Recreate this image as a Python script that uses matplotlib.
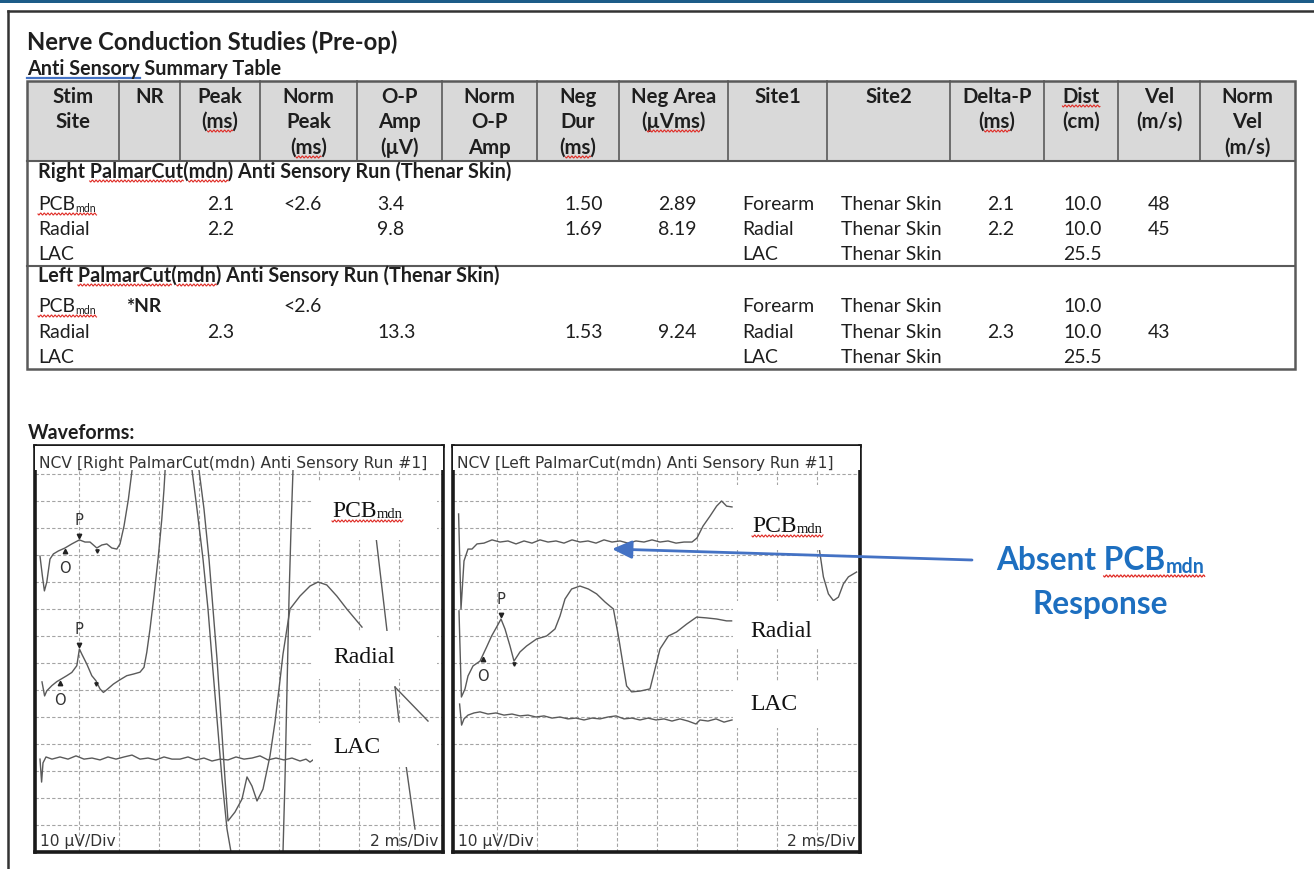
"""
Nerve Conduction Studies (Pre-op) - anti sensory summary table and waveforms
"""
import numpy as np
import matplotlib
matplotlib.use("Agg")
import matplotlib.pyplot as plt
from matplotlib.patches import Rectangle, FancyArrowPatch

nan = np.nan

# ------------------------------------------------------------------ table
# rows: right side (PCB, Radial, LAC) then left side (PCB, Radial, LAC)
run_titles = [
    "Right PalmarCut(mdn) Anti Sensory Run (Thenar Skin)",
    "Left PalmarCut(mdn) Anti Sensory Run (Thenar Skin)",
]
stim_sites = ["PCB", "Radial", "LAC", "PCB", "Radial", "LAC"]
no_response = ["", "", "", "*NR", "", ""]
peak_ms = [2.1, 2.2, None, None, 2.3, None]
norm_peak_ms = ["<2.6", "", "", "<2.6", "", ""]
op_amp_uv = [3.4, 9.8, None, None, 13.3, None]
neg_dur_ms = [1.50, 1.69, None, None, 1.53, None]
neg_area_uvms = [2.89, 8.19, None, None, 9.24, None]
site1 = ["Forearm", "Radial", "LAC", "Forearm", "Radial", "LAC"]
site2 = ["Thenar Skin"] * 6
delta_p_ms = [2.1, 2.2, None, None, 2.3, None]
dist_cm = [10.0, 10.0, 25.5, 10.0, 10.0, 25.5]
vel_m_s = [48, 45, None, None, 43, None]

header_labels = [
    ["Stim", "Site"], ["NR"], ["Peak", "(ms)"], ["Norm", "Peak", "(ms)"],
    ["O-P", "Amp", "(µV)"], ["Norm", "O-P", "Amp"], ["Neg", "Dur", "(ms)"],
    ["Neg Area", "(µVms)"], ["Site1"], ["Site2"], ["Delta-P", "(ms)"],
    ["Dist", "(cm)"], ["Vel", "(m/s)"], ["Norm", "Vel", "(m/s)"],
]

# -------------------------------------------------------------- waveforms
# time in ms, amplitude in uV on the 10 uV/div, 2 ms/div screen (nan = gap)
right_pcb_ms = [0.05, 0.17, 0.27, 0.39, 0.55, 0.72, 0.97, 1.30, 1.64, 2.02,
                2.30, 2.55, 2.89, 3.14, 3.39, 3.64, 3.89, 4.05, 4.25, 4.47,
                4.64, 4.80, nan,
                7.55, 7.65, 7.90, 8.20, 8.45, 8.65, 8.90, 9.15, 9.40, 9.60,
                9.65, nan,
                12.15, 12.20, 12.30, 12.40, 12.50, 12.60, 12.70, 12.75, nan,
                16.85, 17.40, nan, 17.80, 18.00, nan, 18.35, 18.80]
right_pcb_uv = [109.6, 102.2, 96.7, 100.0, 108.5, 110.4, 111.5, 112.6, 114.1,
                115.6, 114.8, 114.8, 112.6, 113.7, 114.1, 112.6, 112.2, 114.1,
                120.7, 130.7, 140.7, 150.4, nan,
                150.4, 141.5, 127.0, 108.5, 90.0, 71.5, 49.3, 27.0, 8.5, 0.0,
                -6.3, nan,
                -6.3, 0.0, 27.0, 60.4, 93.7, 119.6, 141.5, 150.4, nan,
                116.7, 81.9, nan, 61.1, 48.5, nan, 32.2, 8.5]

right_radial_ms = [0.15, 0.28, 0.39, 0.64, 0.89, 1.05, 1.39, 1.64, 1.89, 2.02,
                   2.14, 2.39, 2.64, 2.85, 3.05, 3.22, 3.39, 3.72, 4.05, 4.39,
                   4.72, 5.05, 5.25, 5.39, 5.55, 5.75, 5.97, 6.14, 6.25, 6.30,
                   6.35, nan,
                   7.90, 8.00, 8.25, 8.50, 8.70, 8.90, 9.10, 9.30, 9.45, 9.80,
                   10.15, 10.40, 10.65, 10.90, 11.20, 11.55, 11.80, 12.00,
                   12.20, 12.55, 13.05, 13.55, 13.95, 14.39, 14.89, 15.39,
                   16.15, nan, 17.80, 19.45]
right_radial_uv = [63.0, 57.8, 59.7, 61.6, 63.1, 63.8, 65.3, 66.5, 69.0, 75.2,
                   73.3, 69.6, 65.3, 63.4, 60.4, 59.1, 60.1, 62.2, 63.8, 65.3,
                   65.9, 66.6, 68.4, 74.0, 82.6, 94.9, 109.7, 123.3, 134.4,
                   140.7, 150.4, nan,
                   150.4, 141.5, 127.0, 108.5, 90.0, 71.5, 49.3, 27.0, 11.5,
                   14.8, 19.6, 27.8, 24.4, 18.9, 23.3, 35.6, 48.1, 60.4, 73.3,
                   90.0, 94.8, 98.5, 100.0, 98.9, 94.8, 90.0, 83.3, nan,
                   61.1, 48.5]

right_lac_ms = [0.05, 0.13, 0.20, 0.35, 0.65, 1.05, 1.45, 1.85, 2.25, 2.65,
                3.05, 3.45, 3.85, 4.25, 4.65, 5.05, 5.45, 5.85, 6.25, 6.65,
                7.05, 7.45, 7.85, 8.25, 8.65, 9.05, 9.45, 9.85, 10.25, 10.65,
                11.05, 11.45, 11.85, 12.25, 12.65, 13.05, 13.35, 13.55, 13.70]
right_lac_uv = [34.4, 25.9, 33.0, 35.2, 34.4, 35.2, 34.4, 35.6, 34.4, 34.8,
                34.1, 35.2, 34.4, 35.2, 35.9, 34.4, 34.8, 34.1, 35.2, 34.4,
                34.4, 35.2, 34.1, 34.8, 33.7, 34.4, 34.1, 35.2, 34.4, 34.8,
                35.6, 34.1, 34.8, 34.1, 34.8, 33.7, 34.4, 33.3, 34.1]

left_pcb_ms = [0.08, 0.20, 0.35, 0.55, 0.75, 1.00, 1.35, 1.75, 2.15, 2.55,
               2.95, 3.35, 3.75, 4.15, 4.55, 4.95, 5.35, 5.75, 6.15, 6.55,
               6.95, 7.35, 7.75, 8.15, 8.55, 8.95, 9.35, 9.75, 10.15, 10.55,
               10.95, 11.35, 11.75, 12.00, 12.30, 12.65, 12.98, 13.23, 13.48,
               13.75, nan,
               18.10, 18.32, 18.57, 18.82, 19.07, 19.32, 19.57, 19.98]
left_pcb_uv = [125.2, 90.0, 107.8, 112.2, 112.2, 114.1, 114.4, 115.6, 114.8,
               115.2, 114.1, 115.2, 114.4, 115.6, 114.8, 115.2, 114.4, 115.6,
               114.8, 115.2, 114.4, 115.6, 114.8, 115.2, 114.4, 115.2, 114.8,
               115.6, 114.8, 115.2, 114.4, 114.8, 114.8, 116.3, 120.7, 124.4,
               128.1, 130.0, 128.1, 127.8, nan,
               113.0, 101.9, 95.6, 93.1, 94.4, 99.3, 101.9, 103.7]

left_radial_ms = [0.10, 0.22, 0.40, 0.55, 0.80, 1.15, 1.48, 1.73, 1.98, 2.20,
                  2.40, 2.65, 2.85, 3.15, 3.48, 3.98, 4.48, 4.90, 5.15, 5.40,
                  5.73, 6.15, 6.57, 6.98, 7.40, 7.82, 8.07, 8.28, 8.48, 8.73,
                  9.15, 9.65, 9.90, 10.15, 10.57, 10.98, 11.48, 11.98, 12.48,
                  12.98, 13.48, 13.73]
left_radial_uv = [89.3, 57.4, 60.4, 65.2, 68.9, 70.7, 75.9, 80.0, 83.3, 86.3,
                  82.6, 76.3, 70.7, 74.1, 76.3, 78.9, 80.0, 82.6, 87.4, 93.7,
                  97.4, 98.5, 97.4, 95.6, 92.6, 90.0, 80.0, 70.4, 61.5, 59.3,
                  59.6, 60.4, 67.8, 75.2, 80.0, 81.5, 84.4, 87.0, 86.7, 86.3,
                  85.6, 85.6]

left_lac_ms = [0.13, 0.23, 0.35, 0.55, 0.85, 1.15, 1.55, 1.95, 2.35, 2.75,
               3.15, 3.55, 3.95, 4.35, 4.75, 5.15, 5.55, 5.95, 6.35, 6.75,
               7.15, 7.55, 7.95, 8.35, 8.75, 9.15, 9.55, 9.95, 10.35, 10.75,
               11.15, 11.55, 11.95, 12.15, 12.55, 12.95, 13.35, 13.75]
left_lac_uv = [54.8, 47.0, 49.3, 50.7, 51.5, 51.9, 51.1, 51.5, 50.7, 51.1,
               50.4, 50.7, 50.0, 50.4, 49.6, 50.0, 49.3, 49.6, 48.9, 49.6,
               49.3, 50.0, 50.4, 49.3, 49.6, 48.9, 49.6, 48.9, 49.3, 48.5,
               49.3, 48.5, 47.4, 48.9, 48.5, 49.3, 48.1, 48.9]

# onset (O), peak (P) and negative tail markers, ms
right_pcb_marks = [1.30, 2.02, 2.89]
right_radial_marks = [1.05, 2.02, 2.85]
left_radial_marks = [1.28, 2.20, 2.85]

# ------------------------------------------------------------------ layout
W, H = 1314, 870
DOC = "Lato"
SERIF = "Liberation Serif"
SCOPE = "DejaVu Sans"
INK = "#1e1e1e"
TRACE = "#5a5a5a"
GRID = "#a4a4a4"
RED = "#e0302a"
BLUE = "#4472c4"
PX_PER_MS = 20.0      # 2 ms per 40 px division
PX_PER_UV = 2.7       # 10 uV per 27 px division

fig = plt.figure(figsize=(W / 100, H / 100), dpi=100)
page = fig.add_axes([0, 0, 1, 1], zorder=0)
page.set_xlim(0, W)
page.set_ylim(H, 0)
page.axis("off")
PX = page.transData
renderer = fig.canvas.get_renderer()


def width_of(s, **kw):
    t = page.text(0, 0, s, **kw)
    w = t.get_window_extent(renderer).width
    t.remove()
    return w


def fit_size(s, span, family, weight="normal"):
    return 20.0 * span / width_of(s, fontsize=20, family=family, weight=weight)


def squiggle(ax, x0, x1, y, color=RED, lw=0.8):
    xs = np.arange(x0, x1 + 0.5, 0.5)
    ys = y + 1.0 * np.sin((xs - x0) * np.pi / 1.8)
    ax.plot(xs, ys, color=color, lw=lw, transform=PX, zorder=6)


def sub_text(ax, x, y, main, sub, size, sub_size, drop, family,
             weight="normal", color=INK, wavy=True, wavy_gap=4):
    kw = dict(family=family, weight=weight, color=color, va="baseline",
              transform=PX, zorder=5)
    ax.text(x, y, main, fontsize=size, **kw)
    xm = x + width_of(main, fontsize=size, family=family, weight=weight)
    ax.text(xm + 0.5, y + drop, sub, fontsize=sub_size, **kw)
    xe = xm + 0.5 + width_of(sub, fontsize=sub_size, family=family,
                             weight=weight)
    if wavy:
        squiggle(ax, x, xe, y + drop + wavy_gap)
    return xe


def fmt(v, spec):
    return "" if v is None else format(v, spec)


# ---------------------------------------------------------------- page frame
page.add_patch(Rectangle((0, 0), W, 3.5, facecolor="#1d5c88",
                         edgecolor="none"))
page.plot([7.5, W], [12, 12], color="#333333", lw=1.8)
page.plot([7.5, 7.5], [12, H], color="#333333", lw=1.8)

title_size = fit_size("Nerve Conduction Studies (Pre-op)", 371, DOC, "bold")
page.text(27, 50, "Nerve Conduction Studies (Pre-op)", fontsize=title_size,
          family=DOC, weight="bold", color=INK, va="baseline")
sub_size = fit_size("Anti Sensory Summary Table", 253, DOC, "bold")
page.text(27, 75, "Anti Sensory Summary Table", fontsize=sub_size,
          family=DOC, weight="bold", color=INK, va="baseline")
page.plot([27, 27 + width_of("Anti Sensory", fontsize=sub_size, family=DOC,
                             weight="bold")],
          [79, 79], color=BLUE, lw=1.6)

# ------------------------------------------------------------------- table
col_edges = [27, 119, 180, 260, 357, 442, 537, 619, 728, 827, 950, 1044,
             1118, 1200, 1295]
head_top, head_bot, table_bot, group_line = 82, 162, 370, 267
edge = "#5a5a5a"

page.add_patch(Rectangle((col_edges[0], head_top),
                         col_edges[-1] - col_edges[0], head_bot - head_top,
                         facecolor="#d9d9d9", edgecolor="none"))
for x in col_edges[1:-1]:
    page.plot([x, x], [head_top, head_bot], color=edge, lw=1.2)
page.add_patch(Rectangle((col_edges[0], head_top),
                         col_edges[-1] - col_edges[0], table_bot - head_top,
                         fill=False, edgecolor=edge, lw=1.8))
for y in (head_bot, group_line):
    page.plot([col_edges[0], col_edges[-1]], [y, y], color=edge, lw=1.5)

head_size = fit_size("Neg Area", 85, DOC, "bold")
head_base = [103, 128, 154]
for i, lines in enumerate(header_labels):
    cx = (col_edges[i] + col_edges[i + 1]) / 2
    for j, s in enumerate(lines):
        page.text(cx, head_base[j], s, ha="center", va="baseline",
                  fontsize=head_size, family=DOC, weight="bold", color=INK)
        if s in ("(ms)", "(µVms)", "Dist"):
            w = width_of(s, fontsize=head_size, family=DOC, weight="bold")
            trim = 0 if s == "Dist" else 6
            squiggle(page, cx - w / 2 + trim, cx + w / 2 - trim,
                     head_base[j] + 4)

body_size = fit_size("Thenar Skin", 101, DOC)
group_size = fit_size(run_titles[0], 471, DOC, "bold")
group_base = [[178, 210, 235, 260], [282, 312, 338, 363]]
cell_x = [126, 207, 283, 377, 564, 658, 742, 841, 987, 1063, 1148]
name_x = 38

for g, rows in enumerate(group_base):
    title = run_titles[g]
    page.text(name_x, rows[0], title, fontsize=group_size, family=DOC,
              weight="bold", color=INK, va="baseline")
    for word, before in (("PalmarCut", title.split("PalmarCut")[0]),
                         ("mdn", title.split("mdn")[0])):
        x0 = name_x + width_of(before + word, fontsize=group_size,
                               family=DOC, weight="bold") \
            - width_of(word, fontsize=group_size, family=DOC, weight="bold")
        x1 = x0 + width_of(word, fontsize=group_size, family=DOC,
                           weight="bold")
        squiggle(page, x0, x1, rows[0] + 4)

    for k in range(3):
        r = 3 * g + k
        y = rows[k + 1]
        if stim_sites[r] == "PCB":
            sub_text(page, name_x, y, "PCB", "mdn", body_size,
                     body_size * 0.55, 2, DOC, wavy_gap=3)
        else:
            page.text(name_x, y, stim_sites[r], fontsize=body_size,
                      family=DOC, color=INK, va="baseline")
        cells = [no_response[r], fmt(peak_ms[r], ".1f"), norm_peak_ms[r],
                 fmt(op_amp_uv[r], ".1f"), fmt(neg_dur_ms[r], ".2f"),
                 fmt(neg_area_uvms[r], ".2f"), site1[r], site2[r],
                 fmt(delta_p_ms[r], ".1f"), fmt(dist_cm[r], ".1f"),
                 fmt(vel_m_s[r], "d")]
        for x, s in zip(cell_x, cells):
            if s:
                page.text(x, y, s, fontsize=body_size, family=DOC,
                          weight="bold" if s == "*NR" else "normal",
                          color=INK, va="baseline")

wave_size = fit_size("Waveforms:", 107, DOC, "bold")
page.text(28, 439, "Waveforms:", fontsize=wave_size, family=DOC,
          weight="bold", color=INK, va="baseline")

# --------------------------------------------------------------- scope panels
scope_size = fit_size("NCV [Right PalmarCut(mdn) Anti Sensory Run #1]", 388,
                      SCOPE)
label_size = fit_size("Radial", 62, SERIF)
BOX_TOP, BOX_BOT = 447, 853


def scope_panel(left, right, title, boxes, labels):
    ax = fig.add_axes([left / W, 1 - BOX_BOT / H, (right - left) / W,
                       (BOX_BOT - BOX_TOP) / H], zorder=1)
    ax.set_xlim(-0.2, (right - left) / PX_PER_MS - 0.2)
    ax.set_ylim(0, (BOX_BOT - BOX_TOP) / PX_PER_UV)
    ax.set_xticks([])
    ax.set_yticks([])
    for s in ax.spines.values():
        s.set_linewidth(2.6)
        s.set_color("#1a1a1a")
    for t in range(2, 20, 2):
        ax.axvline(t, color=GRID, lw=0.8, ls=(0, (3, 2)), zorder=0)
    for v in range(10, 150, 10):
        ax.axhline(v, color=GRID, lw=0.8, ls=(0, (3, 2)), zorder=0)

    # title band and bottom scale captions
    ax.add_patch(Rectangle((-1, 141.3), 30, 20, facecolor="white",
                           edgecolor="none", zorder=3))
    ax.text(left + 4, 468, title, fontsize=scope_size, family=SCOPE,
            color="#333333", va="baseline", transform=PX, zorder=5)
    ax.text(left + 5, 846, "10 µV/Div", fontsize=scope_size, family=SCOPE,
            color="#333333", va="baseline", transform=PX, zorder=5)
    ax.text(right - 5, 846, "2 ms/Div", fontsize=scope_size, family=SCOPE,
            color="#333333", va="baseline", ha="right", transform=PX,
            zorder=5)

    # white patches carrying the trace names
    for (x0, y0, x1, y1), (lx, ly, name) in zip(boxes, labels):
        ax.add_patch(Rectangle((x0, y0), x1 - x0, y1 - y0, facecolor="white",
                               edgecolor="none", transform=PX, zorder=3))
        if name == "PCB":
            sub_text(ax, lx, ly, "PCB", "mdn", label_size, label_size * 0.62,
                     1.5, SERIF, color="#111111", wavy_gap=3.5)
        else:
            ax.text(lx, ly, name, fontsize=label_size, family=SERIF,
                    color="#111111", va="baseline", transform=PX, zorder=5)
    return ax


def draw_marks(ax, t, uv, marks):
    t = np.asarray(t, dtype=float)
    uv = np.asarray(uv, dtype=float)
    ok = ~np.isnan(t)
    vo, vp, vt = np.interp(marks, t[ok], uv[ok])
    onset, peak, tail = marks
    style = dict(color="#222222", zorder=4, ls="none")
    ax.plot(onset, vo - 1.1, marker="^", ms=3.2, **style)
    ax.plot(peak, vp + 1.3, marker="v", ms=3.2, **style)
    ax.plot(tail, vt - 1.0, marker="v", ms=2.4, **style)
    txt = dict(fontsize=scope_size * 0.95, family=SCOPE, color="#333333",
               ha="center", va="center", zorder=4)
    ax.text(onset, vo - 7.4, "O", **txt)
    ax.text(peak, vp + 7.6, "P", **txt)


right_ax = scope_panel(
    35, 443, "NCV [Right PalmarCut(mdn) Anti Sensory Run #1]",
    [(313, 483, 437, 541), (313, 632, 437, 680), (313, 724, 437, 768)],
    [(332, 517, "PCB"), (333, 663, "Radial"), (333, 753, "LAC")])
for t, uv in ((right_pcb_ms, right_pcb_uv), (right_radial_ms, right_radial_uv),
              (right_lac_ms, right_lac_uv)):
    right_ax.plot(t, uv, color=TRACE, lw=1.0, zorder=2)
draw_marks(right_ax, right_pcb_ms, right_pcb_uv, right_pcb_marks)
draw_marks(right_ax, right_radial_ms, right_radial_uv, right_radial_marks)

left_ax = scope_panel(
    453, 860, "NCV [Left PalmarCut(mdn) Anti Sensory Run #1]",
    [(733, 486, 857, 551), (733, 602, 857, 648), (733, 682, 857, 729)],
    [(752, 532, "PCB"), (750, 637, "Radial"), (750, 710, "LAC")])
for t, uv in ((left_pcb_ms, left_pcb_uv), (left_radial_ms, left_radial_uv),
              (left_lac_ms, left_lac_uv)):
    left_ax.plot(t, uv, color=TRACE, lw=1.0, zorder=2)
draw_marks(left_ax, left_radial_ms, left_radial_uv, left_radial_marks)

# ------------------------------------------------------------- annotation
over = fig.add_axes([0, 0, 1, 1], zorder=2)
over.set_xlim(0, W)
over.set_ylim(H, 0)
over.axis("off")
over.patch.set_visible(False)

over.add_patch(FancyArrowPatch(
    (972, 561), (612, 550),
    arrowstyle="-|>,head_length=1.2,head_width=0.55", mutation_scale=10,
    color=BLUE, lw=2.0, shrinkA=0, shrinkB=0))

note_blue = "#1d6fc0"
note_size = fit_size("Response", 136, DOC, "bold")
main_w = width_of("Absent PCB", fontsize=note_size, family=DOC, weight="bold")
sub_w = width_of("mdn", fontsize=note_size * 0.62, family=DOC, weight="bold")
x0 = 1100 - (main_w + sub_w) / 2
over.text(x0, 570, "Absent PCB", fontsize=note_size, family=DOC,
          weight="bold", color=note_blue, va="baseline")
over.text(x0 + main_w + 0.5, 573, "mdn", fontsize=note_size * 0.62,
          family=DOC, weight="bold", color=note_blue, va="baseline")
pcb_w = width_of("PCB", fontsize=note_size, family=DOC, weight="bold")
xs = np.arange(x0 + main_w - pcb_w, x0 + main_w + sub_w + 1, 0.5)
over.plot(xs, 577 + 1.0 * np.sin((xs - xs[0]) * np.pi / 1.8), color=RED,
          lw=0.9)
over.text(1100, 614, "Response", fontsize=note_size, family=DOC,
          weight="bold", color=note_blue, va="baseline", ha="center")

fig.savefig("out.png", dpi=100)
